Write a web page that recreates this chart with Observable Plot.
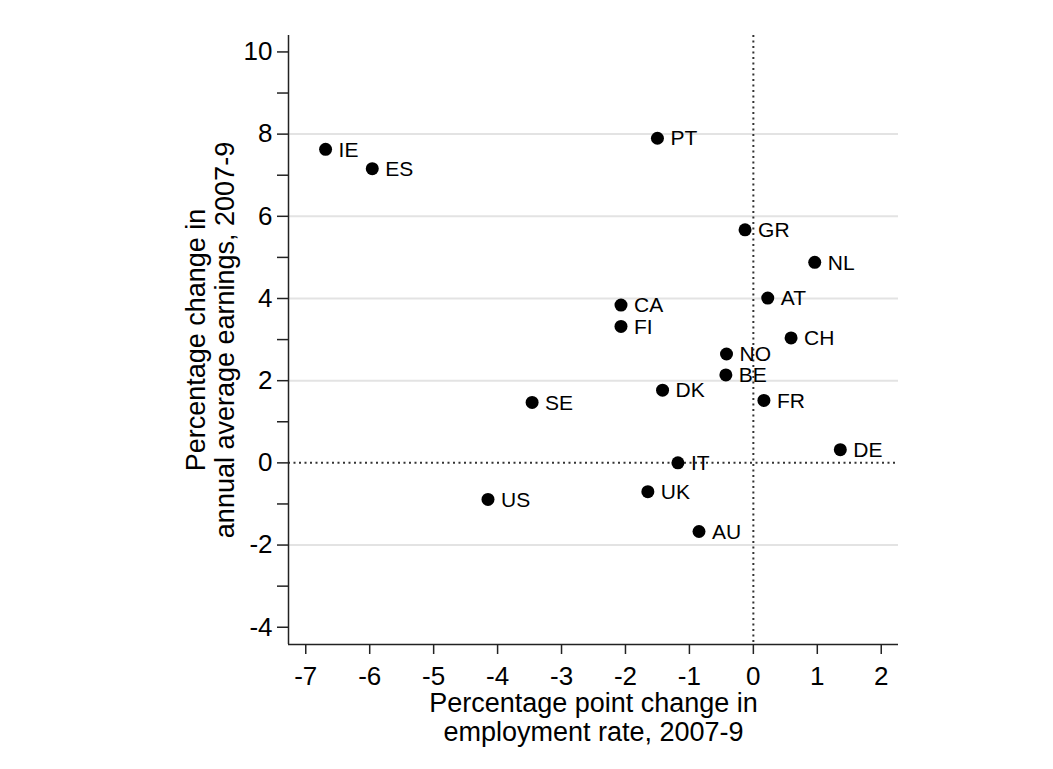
<!DOCTYPE html>
<html>
<head>
<meta charset="utf-8">
<script src="https://cdn.jsdelivr.net/npm/d3@7"></script>
<script src="https://cdn.jsdelivr.net/npm/@observablehq/plot@0.6"></script>
<style>
  html, body { margin: 0; padding: 0; background: #fff; }
  #chart svg { display: block; }
</style>
</head>
<body>
<div id="chart"></div>
<script>
const countries = ["IE","ES","PT","GR","NL","AT","CA","FI","CH","NO","BE","DK","FR","SE","DE","IT","UK","US","AU"];
const employmentChange = [-6.69,-5.96,-1.50,-0.13,0.96,0.225,-2.07,-2.07,0.59,-0.42,-0.43,-1.42,0.165,-3.46,1.36,-1.18,-1.65,-4.15,-0.85];
const earningsChange = [7.63,7.16,7.90,5.67,4.88,4.01,3.84,3.32,3.04,2.65,2.14,1.77,1.52,1.47,0.32,0.0,-0.70,-0.89,-1.67];

const xTicks = [-7,-6,-5,-4,-3,-2,-1,0,1,2];
const yTicks = [-4,-3,-2,-1,0,1,2,3,4,5,6,7,8,9,10];
const yGrid = [-2,2,4,6,8];
const xDomain = [-7.27, 2.27];
const yDomain = [-4.42, 10.4];
const xTitle = "Percentage point change in\nemployment rate, 2007-9";
const yTitle = "Percentage change in\nannual average earnings, 2007-9";

const data = countries.map((c, i) => ({country: c, x: employmentChange[i], y: earningsChange[i]}));

const font = "'Liberation Sans', Arial, sans-serif";

const chart = Plot.plot({
  width: 1053,
  height: 769,
  marginLeft: 288,
  marginRight: 155,
  marginTop: 35,
  marginBottom: 125,
  style: {fontFamily: font, color: "#000", background: "#fff"},
  x: {domain: xDomain},
  y: {domain: yDomain},
  marks: [
    Plot.gridY(yGrid, {stroke: "#e3e3e3", strokeOpacity: 1, strokeWidth: 2}),
    Plot.ruleY([0], {stroke: "#333", strokeWidth: 2, strokeDasharray: "2,3.5"}),
    Plot.ruleX([0], {stroke: "#333", strokeWidth: 2, strokeDasharray: "2,3.5"}),
    Plot.ruleY([yDomain[0]], {stroke: "#222", strokeWidth: 1.5}),
    Plot.ruleX([xDomain[0]], {stroke: "#222", strokeWidth: 1.5}),
    Plot.axisX(xTicks, {tickSize: 10, tickPadding: 12, fontSize: 26, stroke: "#222", strokeWidth: 1.5,
      tickFormat: d => String(d), label: null}),
    Plot.axisY(yTicks, {tickSize: 11, tickPadding: 5, fontSize: 26, stroke: "#222", strokeWidth: 1.5,
      tickFormat: d => (d % 2 === 0 ? String(d) : ""), label: null}),
    Plot.dot(data, {x: "x", y: "y", r: 6.5, fill: "#000", stroke: null}),
    Plot.text(data, {x: "x", y: "y", text: "country", dx: 13, dy: 0.5, textAnchor: "start", fontSize: 21, fill: "#000"}),
    Plot.text([xTitle], {frameAnchor: "bottom", dy: 47, lineAnchor: "top", textAnchor: "middle", fontSize: 27, lineHeight: 1.08, fill: "#000"}),
    Plot.text([yTitle], {frameAnchor: "left", dx: -104, lineAnchor: "top", textAnchor: "middle", rotate: -90, fontSize: 27, lineHeight: 1.08, fill: "#000"})
  ]
});
document.getElementById("chart").appendChild(chart);
</script>
</body>
</html>
